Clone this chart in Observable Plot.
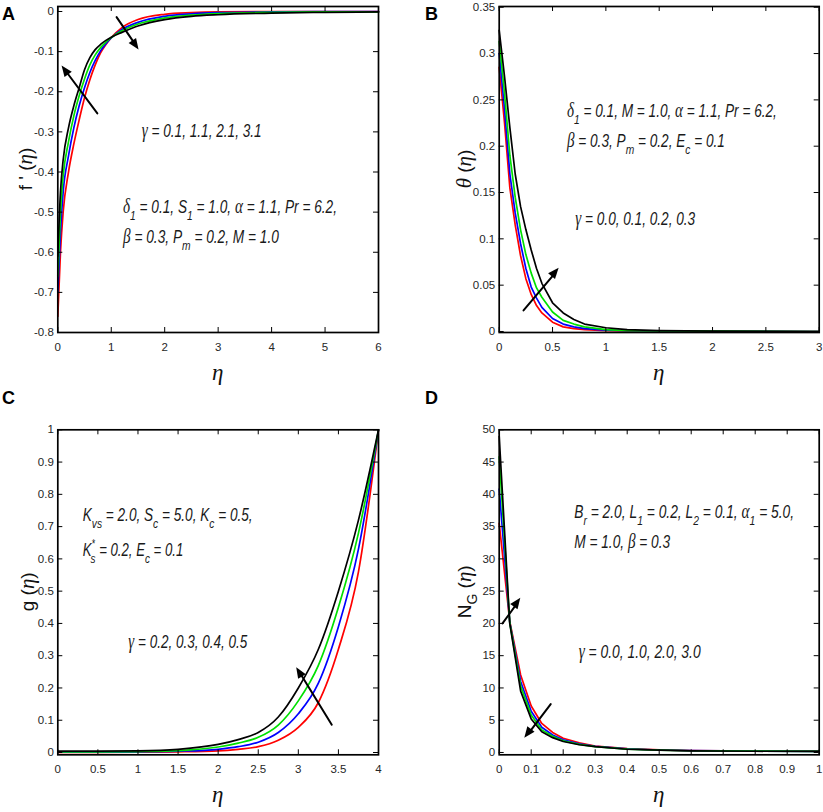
<!DOCTYPE html>
<html><head><meta charset="utf-8">
<script src="https://cdn.jsdelivr.net/npm/d3@7"></script>
<script src="https://cdn.jsdelivr.net/npm/@observablehq/plot@0.6"></script>
<style>
body{margin:0;background:#fff;}
#wrap{position:relative;width:823px;height:812px;overflow:hidden;background:#fff;}
.panel{position:absolute;}
.plabel{position:absolute;font:bold 18px "Liberation Sans",Arial,sans-serif;line-height:1;color:#000;}
</style></head><body><div id="wrap"></div>
<script>
const seriesColors = ["#ff0000", "#0000ff", "#00e000", "#000000"];

// ---- Panel A: f'(eta), gamma = 0.1, 1.1, 2.1, 3.1
const gammaA = ["0.1", "1.1", "2.1", "3.1"];
const etaA = [0, 0.05, 0.1, 0.2, 0.3, 0.4, 0.5, 0.6, 0.7, 0.8, 0.9, 1.0, 1.2, 1.5, 2, 2.5, 3, 4, 5, 6];
const fA_g01 = [-0.76, -0.60, -0.50, -0.40, -0.33, -0.27, -0.215, -0.17, -0.133, -0.103, -0.082, -0.065, -0.040, -0.020, -0.007, -0.003, -0.001, 0, 0, 0];
const fA_g11 = [-0.70, -0.55, -0.45, -0.36, -0.29, -0.235, -0.19, -0.152, -0.122, -0.098, -0.080, -0.066, -0.045, -0.027, -0.012, -0.006, -0.003, -0.001, 0, 0];
const fA_g21 = [-0.66, -0.50, -0.41, -0.325, -0.26, -0.21, -0.168, -0.133, -0.108, -0.09, -0.076, -0.065, -0.048, -0.031, -0.016, -0.009, -0.005, -0.002, -0.001, -0.001];
const fA_g31 = [-0.61, -0.45, -0.37, -0.29, -0.235, -0.19, -0.145, -0.115, -0.095, -0.082, -0.072, -0.064, -0.052, -0.036, -0.020, -0.012, -0.008, -0.004, -0.002, -0.001];
const xTicksA = [0, 1, 2, 3, 4, 5, 6];
const yTicksA = [-0.8, -0.7, -0.6, -0.5, -0.4, -0.3, -0.2, -0.1, 0];
const arrowsA = [{x1: 0.74, y1: -0.254, x2: 0.08, y2: -0.136}, {x1: 1.10, y1: -0.014, x2: 1.52, y2: -0.096}];

// ---- Panel B: theta(eta), gamma = 0.0, 0.1, 0.2, 0.3
const gammaB = ["0.0", "0.1", "0.2", "0.3"];
const etaB = [0, 0.05, 0.1, 0.15, 0.2, 0.25, 0.3, 0.35, 0.4, 0.5, 0.6, 0.7, 0.8, 1.0, 1.2, 1.5, 2, 3];
const thB_g00 = [0.285, 0.225, 0.155, 0.115, 0.082, 0.057, 0.04, 0.028, 0.02, 0.01, 0.005, 0.003, 0.002, 0.001, 0.0005, 0.0003, 0.0001, 0];
const thB_g01 = [0.30, 0.24, 0.17, 0.128, 0.095, 0.068, 0.048, 0.036, 0.026, 0.014, 0.008, 0.005, 0.003, 0.0015, 0.0008, 0.0005, 0.0002, 0];
const thB_g02 = [0.313, 0.257, 0.19, 0.145, 0.11, 0.083, 0.063, 0.047, 0.037, 0.021, 0.012, 0.008, 0.005, 0.002, 0.001, 0.0007, 0.0003, 0];
const thB_g03 = [0.325, 0.275, 0.22, 0.17, 0.135, 0.11, 0.088, 0.068, 0.052, 0.031, 0.02, 0.013, 0.008, 0.004, 0.002, 0.001, 0.0003, 0];
const xTicksB = [0, 0.5, 1, 1.5, 2, 2.5, 3];
const yTicksB = [0, 0.05, 0.1, 0.15, 0.2, 0.25, 0.3, 0.35];
const arrowsB = [{x1: 0.228, y1: 0.0227, x2: 0.562, y2: 0.0683}];

// ---- Panel C: g(eta), gamma = 0.2, 0.3, 0.4, 0.5
const gammaC = ["0.2", "0.3", "0.4", "0.5"];
const etaC = [0, 0.5, 1, 1.5, 2, 2.25, 2.5, 2.75, 3, 3.25, 3.5, 3.75, 4];
const gC_g02 = [0, 0.0005, 0.001, 0.002, 0.005, 0.01, 0.018, 0.038, 0.078, 0.155, 0.32, 0.56, 1];
const gC_g03 = [0.001, 0.001, 0.002, 0.004, 0.01, 0.018, 0.032, 0.062, 0.12, 0.215, 0.39, 0.63, 1];
const gC_g04 = [0.002, 0.002, 0.003, 0.006, 0.017, 0.029, 0.047, 0.085, 0.16, 0.27, 0.45, 0.68, 1];
const gC_g05 = [0.004, 0.004, 0.005, 0.01, 0.025, 0.04, 0.062, 0.11, 0.2, 0.32, 0.5, 0.72, 1];
const xTicksC = [0, 0.5, 1, 1.5, 2, 2.5, 3, 3.5, 4];
const yTicksC = [0, 0.1, 0.2, 0.3, 0.4, 0.5, 0.6, 0.7, 0.8, 0.9, 1];
const arrowsC = [{x1: 3.417, y1: 0.086, x2: 2.98, y2: 0.263}];

// ---- Panel D: N_G(eta), gamma = 0.0, 1.0, 2.0, 3.0
const gammaD = ["0.0", "1.0", "2.0", "3.0"];
const etaD = [0, 0.033, 0.067, 0.1, 0.133, 0.167, 0.2, 0.25, 0.3, 0.4, 0.5, 0.6, 0.8, 1];
const nD_g0 = [35.5, 20.3, 12, 7.2, 4.5, 3.1, 2.2, 1.5, 1.0, 0.6, 0.4, 0.3, 0.22, 0.2];
const nD_g1 = [40.8, 20.2, 11, 6.4, 3.9, 2.7, 1.95, 1.35, 0.95, 0.55, 0.38, 0.28, 0.2, 0.18];
const nD_g2 = [45.8, 20.1, 10.3, 5.8, 3.5, 2.5, 1.8, 1.25, 0.92, 0.52, 0.36, 0.27, 0.2, 0.17];
const nD_g3 = [49.0, 20.0, 9.5, 5.2, 3.2, 2.3, 1.7, 1.2, 0.9, 0.5, 0.35, 0.26, 0.19, 0.16];
const xTicksD = [0, 0.1, 0.2, 0.3, 0.4, 0.5, 0.6, 0.7, 0.8, 0.9, 1];
const yTicksD = [0, 5, 10, 15, 20, 25, 30, 35, 40, 45, 50];
const arrowsD = [{x1: 0.0103, y1: 20, x2: 0.0676, y2: 23.9}, {x1: 0.161, y1: 7.5, x2: 0.08, y2: 2.2}];

// ---- annotation texts
const notesA = [
  {x: 1.58, y: -0.314, w: 120, text: "γ = 0.1, 1.1, 2.1, 3.1"},
  {x: 1.23, y: -0.504, w: 214, text: "δ_{1} = 0.1, S_{1} = 1.0, α = 1.1, Pr = 6.2,"},
  {x: 1.23, y: -0.579, w: 156, text: "β = 0.3, P_{m} = 0.2, M = 1.0"}
];
const notesB = [
  {x: 0.64, y: 0.231, w: 210, text: "δ_{1} = 0.1, M = 1.0, α = 1.1, Pr = 6.2,"},
  {x: 0.64, y: 0.199, w: 158, text: "β = 0.3, P_{m} = 0.2, E_{c} = 0.1"},
  {x: 0.718, y: 0.1144, w: 120, text: "γ = 0.0, 0.1, 0.2, 0.3"}
];
const notesC = [
  {x: 0.317, y: 0.716, w: 170, text: "K_{vs} = 2.0, S_{c} = 5.0, K_{c} = 0.5,"},
  {x: 0.317, y: 0.607, w: 105, text: "K^{*}_{s} = 0.2, E_{c} = 0.1"},
  {x: 0.886, y: 0.323, w: 119, text: "γ = 0.2, 0.3, 0.4, 0.5"}
];
const notesD = [
  {x: 0.236, y: 36.3, w: 220, text: "B_{r} = 2.0, L_{1} = 0.2, L_{2} = 0.1, α_{1} = 5.0,"},
  {x: 0.236, y: 31.65, w: 96, text: "M = 1.0, β = 0.3"},
  {x: 0.25, y: 14.6, w: 122, text: "γ = 0.0, 1.0, 2.0, 3.0"}
];

// ---- helpers
function table(eta, list) {
  return list.flatMap((vals, s) => vals.map((v, i) => ({x: eta[i], y: v, s})));
}
const fmt = d => String(+d.toFixed(3));
const SANS = "'Liberation Sans', Arial, sans-serif";
const SERIF = "'Liberation Serif', 'Times New Roman', serif";

function parseRich(str) {
  const parts = [];
  const re = /(_\{[^}]*\}|\^\{[^}]*\})/;
  for (const tok of str.split(re)) {
    if (!tok) continue;
    if (tok.startsWith("_{")) parts.push({t: tok.slice(2, -1), kind: "sub"});
    else if (tok.startsWith("^{")) parts.push({t: tok.slice(2, -1), kind: "sup"});
    else {
      for (const g of tok.split(/([α-ω])/)) {
        if (!g) continue;
        parts.push({t: g, kind: "n", greek: /^[α-ω]$/.test(g)});
      }
    }
  }
  return parts;
}

function addNote(svg, plot, n) {
  const px = plot.scale("x").apply(n.x), py = plot.scale("y").apply(n.y);
  const g = d3.select(svg).append("g").attr("transform", `translate(${px},${py})`);
  const t = g.append("text")
    .attr("text-anchor", "start")
    .attr("font-family", SANS)
    .attr("font-style", "italic").attr("font-size", 18).attr("fill", "#1a1a1a");
  const parts = parseRich(n.text);
  let cur = 0;
  parts.forEach((p, i) => {
    const ts = t.append("tspan").text(p.t);
    let target = 0;
    if (p.kind === "sub") {
      ts.attr("font-size", 13.5);
      target = 7;
      if (i > 0 && parts[i - 1].kind === "sup") ts.attr("dx", -6);
    } else if (p.kind === "sup") {
      ts.attr("font-size", 12);
      target = -8;
    }
    if (p.greek) ts.attr("font-family", SERIF).attr("font-size", 20);
    if (target !== cur) { ts.attr("dy", target - cur); cur = target; }
  });
  const len = t.node().getComputedTextLength();
  if (len > 0) t.attr("transform", `scale(${n.w / len},1)`);
}

function addYLabel(svg, x, y, parts) {
  const t = d3.select(svg).append("text")
    .attr("transform", `translate(${x},${y}) rotate(-90)`)
    .attr("text-anchor", "middle").attr("font-size", 19).attr("fill", "#111");
  for (const p of parts) {
    const ts = t.append("tspan").text(p.t).attr("font-family", p.serif ? SERIF : SANS);
    if (p.serif) ts.attr("font-style", "italic").attr("font-size", 21);
    if (p.sub) ts.attr("font-size", 14).attr("dy", 6);
    if (p.after) ts.attr("dy", -6);
  }
}

function addXLabel(svg, x, y) {
  d3.select(svg).append("text").attr("x", x).attr("y", y)
    .attr("text-anchor", "middle")
    .attr("font-family", SERIF)
    .attr("font-style", "italic").attr("font-size", 23).attr("fill", "#111").text("η");
}

// custom mark: filled arrowheads at (x2, y2), oriented along the arrow, through the plot's scales
function arrowHeads(data) {
  return (index, scales) => {
    const g = d3.create("svg:g");
    for (const a of data) {
      const X1 = scales.x(a.x1), Y1 = scales.y(a.y1), X2 = scales.x(a.x2), Y2 = scales.y(a.y2);
      const ang = Math.atan2(Y2 - Y1, X2 - X1);
      const L = 11, Wd = 4.5;
      const bx = X2 - L * Math.cos(ang), by = Y2 - L * Math.sin(ang);
      const px = -Math.sin(ang) * Wd, py = Math.cos(ang) * Wd;
      g.append("path")
        .attr("d", `M${X2},${Y2}L${bx + px},${by + py}L${bx - px},${by - py}Z`)
        .attr("fill", "black");
    }
    return g.node();
  };
}

const wrap = document.getElementById("wrap");

function makePanel(cfg) {
  const W = 411, H = 406;
  const iw = W - cfg.ml - cfg.mr, ih = H - cfg.mt - cfg.mb;
  const plot = Plot.plot({
    width: W, height: H,
    marginLeft: cfg.ml, marginRight: cfg.mr, marginTop: cfg.mt, marginBottom: cfg.mb,
    x: {domain: cfg.xd}, y: {domain: cfg.yd},
    color: {type: "identity"},
    style: {fontFamily: SANS, fontSize: "11.5px", background: "transparent", overflow: "visible"},
    marks: [
      Plot.axisX(cfg.xt, {tickSize: 0, tickPadding: 10, tickFormat: fmt, label: null, color: "#262626"}),
      Plot.axisY(cfg.yt, {tickSize: 0, tickPadding: 4, tickFormat: fmt, label: null, color: "#262626"}),
      Plot.line(table(cfg.eta, cfg.series), {x: "x", y: "y", z: "s", stroke: d => seriesColors[d.s], strokeWidth: 1.7, curve: cfg.curve}),
      Plot.arrow(cfg.arrows, {x1: "x1", y1: "y1", x2: "x2", y2: "y2", stroke: "black", strokeWidth: 2, headLength: 0, insetEnd: 8}),
      arrowHeads(cfg.arrows),
      Plot.tickX(cfg.xt, {x: d => d, insetTop: ih - 5, stroke: "black"}),
      Plot.tickX(cfg.xt, {x: d => d, insetBottom: ih - 5, stroke: "black"}),
      Plot.tickY(cfg.yt, {y: d => d, insetRight: iw - 5, stroke: "black"}),
      Plot.tickY(cfg.yt, {y: d => d, insetLeft: iw - 5, stroke: "black"}),
      Plot.frame({stroke: "black", strokeWidth: 1.7})
    ]
  });
  const div = document.createElement("div");
  div.className = "panel";
  div.style.left = cfg.left + "px";
  div.style.top = cfg.top + "px";
  div.appendChild(plot);
  wrap.appendChild(div);
  for (const n of cfg.notes) addNote(plot, plot, n);
  addXLabel(plot, cfg.ml + iw / 2, H - cfg.mb + 48);
  addYLabel(plot, cfg.ylx, cfg.mt + ih / 2, cfg.ylabel);
  const lab = document.createElement("div");
  lab.className = "plabel";
  lab.textContent = cfg.letter;
  lab.style.left = cfg.lx + "px";
  lab.style.top = cfg.ly + "px";
  wrap.appendChild(lab);
}

makePanel({letter: "A", lx: 2, ly: 5, left: 0, top: 0, ml: 57.3, mr: 33, mt: 6, mb: 74,
  xd: [0, 6], yd: [-0.8, 0.0125], xt: xTicksA, yt: yTicksA, eta: etaA,
  series: [fA_g01, fA_g11, fA_g21, fA_g31], curve: "monotone-x", arrows: arrowsA, notes: notesA,
  ylx: 32, ylabel: [{t: "f ' ("}, {t: "η", serif: true}, {t: ")"}]});
makePanel({letter: "B", lx: 425, ly: 5, left: 412, top: 0, ml: 86.7, mr: 4.3, mt: 6, mb: 74,
  xd: [0, 3], yd: [-0.0011, 0.3508], xt: xTicksB, yt: yTicksB, eta: etaB,
  series: [thB_g00, thB_g01, thB_g02, thB_g03], curve: "linear", arrows: arrowsB, notes: notesB,
  ylx: 59, ylabel: [{t: "θ", serif: true}, {t: " ("}, {t: "η", serif: true}, {t: ")"}]});
makePanel({letter: "C", lx: 2, ly: 389, left: 0, top: 406, ml: 57.3, mr: 33, mt: 23.3, mb: 57.7,
  xd: [0, 4], yd: [-0.0071, 1], xt: xTicksC, yt: yTicksC, eta: etaC,
  series: [gC_g02, gC_g03, gC_g04, gC_g05], curve: "monotone-x", arrows: arrowsC, notes: notesC,
  ylx: 34, ylabel: [{t: "g ("}, {t: "η", serif: true}, {t: ")"}]});
makePanel({letter: "D", lx: 425, ly: 389, left: 412, top: 406, ml: 86.7, mr: 4.3, mt: 23.3, mb: 57.7,
  xd: [0, 1], yd: [-0.36, 50], xt: xTicksD, yt: yTicksD, eta: etaD,
  series: [nD_g0, nD_g1, nD_g2, nD_g3], curve: "linear", arrows: arrowsD, notes: notesD,
  ylx: 59, ylabel: [{t: "N"}, {t: "G", sub: true}, {t: " (", after: true}, {t: "η", serif: true}, {t: ")"}]});
</script></body></html>
